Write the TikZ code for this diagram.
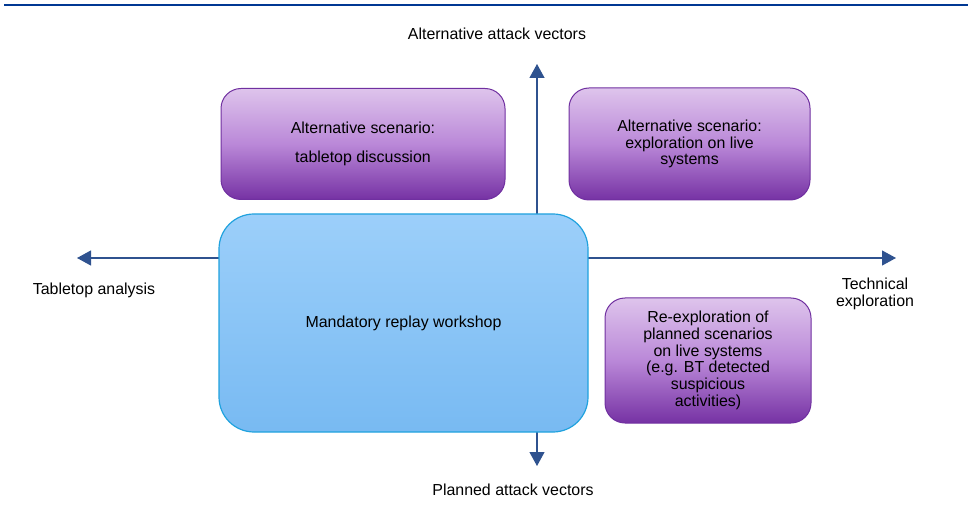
\documentclass[tikz,border=0pt]{standalone}
\usepackage{fontspec}
\setmainfont{Liberation Sans}
\usetikzlibrary{arrows.meta}

\definecolor{axisblue}{RGB}{47,82,143}
\definecolor{rulerblue}{RGB}{0,56,147}
\definecolor{purpleedge}{RGB}{112,48,160}
\definecolor{purpletop}{RGB}{222,196,236}
\definecolor{purplemid}{RGB}{186,136,216}
\definecolor{purplebot}{RGB}{118,50,164}
\definecolor{blueedge}{RGB}{32,162,222}
\definecolor{bluetop}{RGB}{156,207,250}
\definecolor{bluebot}{RGB}{120,186,242}

\begin{document}
\begin{tikzpicture}[x=1bp, y=-1bp,
    every node/.style={font=\fontsize{16}{16.8}\selectfont, align=center},
    scenario/.style={draw=purpleedge, line width=1bp, rounded corners=20bp,
        top color=purpletop, bottom color=purplebot, middle color=purplemid},
    workshop/.style={draw=blueedge, line width=1.2bp, rounded corners=35bp,
        top color=bluetop, bottom color=bluebot},
    axis/.style={draw=axisblue, line width=1.2bp,
        -{Triangle[length=14bp, width=15bp]}}]
    \useasboundingbox (0,0) rectangle (968,521);
    % Header rule
    \draw[rulerblue, line width=2.5bp] (4,5) -- (968,5);

    % Axes
    \coordinate (top) at (537,64);
    \coordinate (bottom) at (537,466);
    \coordinate (left) at (77,258);
    \coordinate (right) at (896,258);
    \coordinate (origin) at (537,258);
    \draw[axis] (origin) -- (top);
    \draw[axis] (origin) -- (bottom);
    \draw[axis] (origin) -- (left);
    \draw[axis] (origin) -- (right);

    % Boxes
    \node[scenario, minimum width=284bp, minimum height=111bp] (tabletop) at (363,144)
        {Alternative scenario:\\[12bp]tabletop discussion};
    \node[scenario, minimum width=241bp, minimum height=112bp] (live) at (689.5,144)
        {Alternative scenario:\\exploration on live\\systems};
    \node[workshop, minimum width=369bp, minimum height=218bp] (replay) at (403.5,323)
        {Mandatory replay workshop};
    \node[scenario, minimum width=206bp, minimum height=125bp] (reexplore) at (708,360.5)
        {Re-exploration of\\planned scenarios\\on live systems\\(e.g. BT detected\\suspicious\\activities)};

    % Axis labels
    \node (altlabel) at (497,34) {Alternative attack vectors};
    \node (planlabel) at (513,490) {Planned attack vectors};
    \node (tablelabel) at (94,290) {Tabletop analysis};
    \node (techlabel) at (875,294) {Technical\\exploration};
\end{tikzpicture}
\end{document}
